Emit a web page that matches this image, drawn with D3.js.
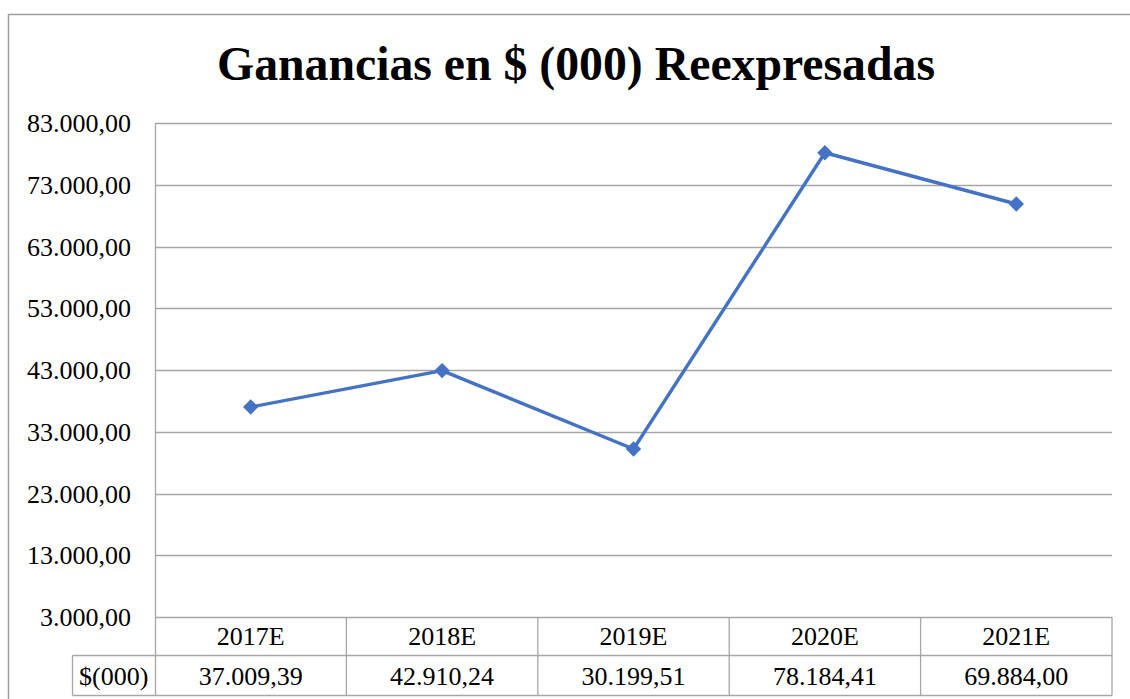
<!DOCTYPE html>
<html><head><meta charset="utf-8">
<script src="https://cdn.jsdelivr.net/npm/d3@7"></script>
<style>body{margin:0;background:#fff}svg{display:block}</style>
</head><body>
<script>
const categories = ["2017E","2018E","2019E","2020E","2021E"];
const values = [37009.39, 42910.24, 30199.51, 78184.41, 69884.00];
const valueLabels = ["37.009,39","42.910,24","30.199,51","78.184,41","69.884,00"];
const tickValues = [3000,13000,23000,33000,43000,53000,63000,73000,83000];
const seriesName = "$(000)";
const title = "Ganancias en $ (000) Reexpresadas";

(function(){
const W = 1130, H = 699;
const svg = d3.select("body").append("svg").attr("width", W).attr("height", H);
const font = "'Liberation Serif','Times New Roman',serif";
const gridColor = "#a6a6a6";

// outer frame
svg.append("path").attr("d", `M8.5,${H} L8.5,14.5 L${W},14.5`).attr("fill","none").attr("stroke","#a0a0a0").attr("stroke-width",1.5);

svg.append("text").attr("x", 576).attr("y", 80).attr("text-anchor","middle")
  .attr("font-family", font).attr("font-weight","bold").attr("font-size", 48)
  .attr("textLength", 718).attr("lengthAdjust","spacingAndGlyphs").text(title);

const pLeft = 155, pRight = 1112, pTop = 123, pBottom = 617;
const x = d3.scaleBand().domain(categories).range([pLeft, pRight]);
const y = d3.scaleLinear().domain([3000, 83000]).range([pBottom, pTop]);

// gridlines
svg.append("g").selectAll("line").data(tickValues).join("line")
  .attr("x1", pLeft).attr("x2", pRight)
  .attr("y1", d => Math.round(y(d)) + 0.5).attr("y2", d => Math.round(y(d)) + 0.5)
  .attr("stroke", gridColor).attr("stroke-width", 1.3);

const fmt = d => d3.formatLocale({decimal:",", thousands:".", grouping:[3]}).format(",.2f")(d);
svg.append("g").selectAll("text").data(tickValues).join("text")
  .attr("x", 131).attr("y", d => y(d)).attr("dy","0.35em").attr("text-anchor","end")
  .attr("font-family", font).attr("font-size", 26).text(fmt);

// table
const rowTop = pBottom, rowMid = 655.5, rowBot = 695.5, labelLeft = 72.5;
const tg = svg.append("g").attr("stroke", gridColor).attr("stroke-width", 1.3);
tg.append("line").attr("x1", pLeft+0.5).attr("x2", pLeft+0.5).attr("y1", pTop).attr("y2", rowBot);
tg.append("line").attr("x1", labelLeft).attr("x2", pRight).attr("y1", rowMid).attr("y2", rowMid);
tg.append("line").attr("x1", labelLeft).attr("x2", pRight).attr("y1", rowBot).attr("y2", rowBot);
tg.append("line").attr("x1", labelLeft).attr("x2", labelLeft).attr("y1", rowMid).attr("y2", rowBot);
tg.selectAll("line.c").data(categories).join("line").attr("class","c")
  .attr("x1", d => x(d) + x.bandwidth()).attr("x2", d => x(d) + x.bandwidth())
  .attr("y1", rowTop).attr("y2", rowBot);

svg.append("g").selectAll("text").data(categories).join("text")
  .attr("x", d => x(d) + x.bandwidth()/2).attr("y", (rowTop+rowMid)/2).attr("dy","0.35em")
  .attr("text-anchor","middle").attr("font-family", font).attr("font-size", 26).text(d => d);
svg.append("g").selectAll("text").data(valueLabels).join("text")
  .attr("x", (d,i) => x(categories[i]) + x.bandwidth()/2).attr("y", (rowMid+rowBot)/2).attr("dy","0.35em")
  .attr("text-anchor","middle").attr("font-family", font).attr("font-size", 26).text(d => d);
svg.append("text").attr("x", (labelLeft+pLeft)/2).attr("y", (rowMid+rowBot)/2).attr("dy","0.35em")
  .attr("text-anchor","middle").attr("font-family", font).attr("font-size", 26).text(seriesName);

// line
const pts = categories.map((c,i) => [x(c) + x.bandwidth()/2, y(values[i])]);
svg.append("path").attr("d", d3.line()(pts)).attr("fill","none").attr("stroke","#4472C4").attr("stroke-width",3.4).attr("stroke-linejoin","round");
svg.append("g").selectAll("path").data(pts).join("path")
  .attr("d", d3.symbol(d3.symbolDiamond2, 150)())
  .attr("transform", d => `translate(${d[0]},${d[1]})`).attr("fill","#4472C4");
})();
</script>
</body></html>
